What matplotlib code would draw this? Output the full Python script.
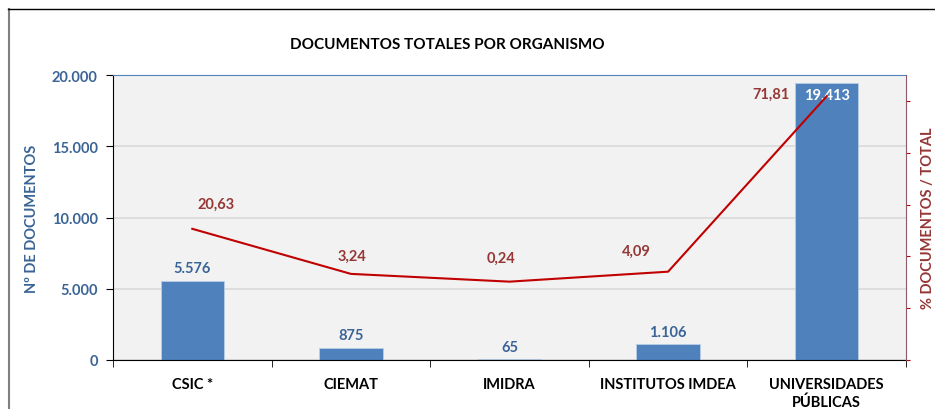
import matplotlib.pyplot as plt
from matplotlib.lines import Line2D

plt.rcParams["font.family"] = ["Lato", "DejaVu Sans"]

CATEGORIES = ["CSIC *", "CIEMAT", "IMIDRA", "INSTITUTOS IMDEA", "UNIVERSIDADES\nPÚBLICAS"]
DOCUMENTOS = [5576, 875, 65, 1106, 19413]
PORCENTAJE = [20.63, 3.24, 0.24, 4.09, 71.81]
Y_TICKS = [0, 5000, 10000, 15000, 20000]
Y_TICK_LABELS = ["0", "5.000", "10.000", "15.000", "20.000"]
Y2_TICKS = [-30, -10, 10, 30, 50, 70]

BAR_COLOR = "#4F81BD"
LINE_COLOR = "#C00000"
PCT_TEXT = "#953735"
BLUE_TEXT = "#3A6496"

# label offsets (points) for the percentage labels
PCT_OFFSETS = [(17, 18), (1, 13), (-6, 17), (-23, 15), (-40, 2)]


def fmt_int(v):
    return f"{v:,}".replace(",", ".")


def fmt_pct(v):
    return f"{v:.2f}".replace(".", ",")


fig = plt.figure(figsize=(9.35, 4.1), dpi=100)
ax = fig.add_axes([113 / 935, 1 - 361 / 410, 793 / 935, 285 / 410])
ax.set_facecolor("#F2F2F2")

x = list(range(len(CATEGORIES)))
ax.bar(x, DOCUMENTOS, width=0.4, color=BAR_COLOR, edgecolor="#B9CDE5", linewidth=0.6, zorder=2)
ax.set_xlim(-0.5, len(CATEGORIES) - 0.5)
ax.set_ylim(0, 20000)
ax.set_yticks(Y_TICKS)
ax.set_yticklabels(Y_TICK_LABELS, fontsize=10.5, fontweight="bold", color=BLUE_TEXT)
ax.yaxis.grid(True, color="#D9D9D9", linewidth=1.2, zorder=0)
ax.set_axisbelow(True)
ax.set_xticks(x)
ax.set_xticklabels(CATEGORIES, fontsize=10.5, fontweight="bold", color="black", linespacing=1.3)
ax.set_xticks([i + 0.5 for i in x[:-1]] + [-0.5, len(CATEGORIES) - 0.5], minor=True)
ax.tick_params(axis="x", which="major", length=0, pad=12)
ax.tick_params(axis="x", which="minor", length=5, color="black", direction="out")
ax.tick_params(axis="y", length=5, color="black", direction="out", pad=6)
ax.set_ylabel("Nº DE DOCUMENTOS", fontsize=10.5, fontweight="bold", color=BLUE_TEXT, labelpad=9)

ax.spines["left"].set_color("black")
ax.spines["bottom"].set_color("black")
ax.spines["top"].set_color("#4F81BD")
ax.spines["right"].set_visible(False)

for i, v in enumerate(DOCUMENTOS):
    if v > 15000:
        ax.annotate(fmt_int(v), (i, v), xytext=(0, -3), textcoords="offset points",
                    ha="center", va="top", fontsize=10.5, fontweight="bold", color="white")
    else:
        ax.annotate(fmt_int(v), (i, v), xytext=(0, 4), textcoords="offset points",
                    ha="center", va="bottom", fontsize=10.5, fontweight="bold", color=BLUE_TEXT)

ax2 = ax.twinx()
ax2.plot(x, PORCENTAJE, color=LINE_COLOR, linewidth=1.5, zorder=3, clip_on=False)
ax2.set_ylim(-30, 80)
ax2.set_yticks(Y2_TICKS)
ax2.set_yticklabels([])
ax2.tick_params(axis="y", length=3, color=LINE_COLOR, direction="out", pad=0)
for side in ["left", "top", "bottom"]:
    ax2.spines[side].set_visible(False)
ax2.spines["right"].set_color("#8E5A6A")
ax2.set_ylabel("% DOCUMENTOS / TOTAL", fontsize=10.5, fontweight="bold", color=PCT_TEXT, labelpad=8)

for i, v in enumerate(PORCENTAJE):
    ax2.annotate(fmt_pct(v), (i, v), xytext=PCT_OFFSETS[i], textcoords="offset points",
                 ha="center", va="center", fontsize=10.5, fontweight="bold", color=PCT_TEXT)

fig.text(447 / 935, 1 - 45 / 410, "DOCUMENTOS TOTALES POR ORGANISMO", ha="center", va="center",
         fontsize=11, fontweight="bold", color="black")

# outer chart frame (left and top edges visible)
fig.add_artist(Line2D([8.5 / 935, 8.5 / 935], [0, 1 - 10 / 410], transform=fig.transFigure,
                      color="#808080", linewidth=1.5))
fig.add_artist(Line2D([8 / 935, 1], [1 - 10 / 410, 1 - 10 / 410], transform=fig.transFigure,
                      color="black", linewidth=1.0))

fig.savefig("out.png", dpi=100)
